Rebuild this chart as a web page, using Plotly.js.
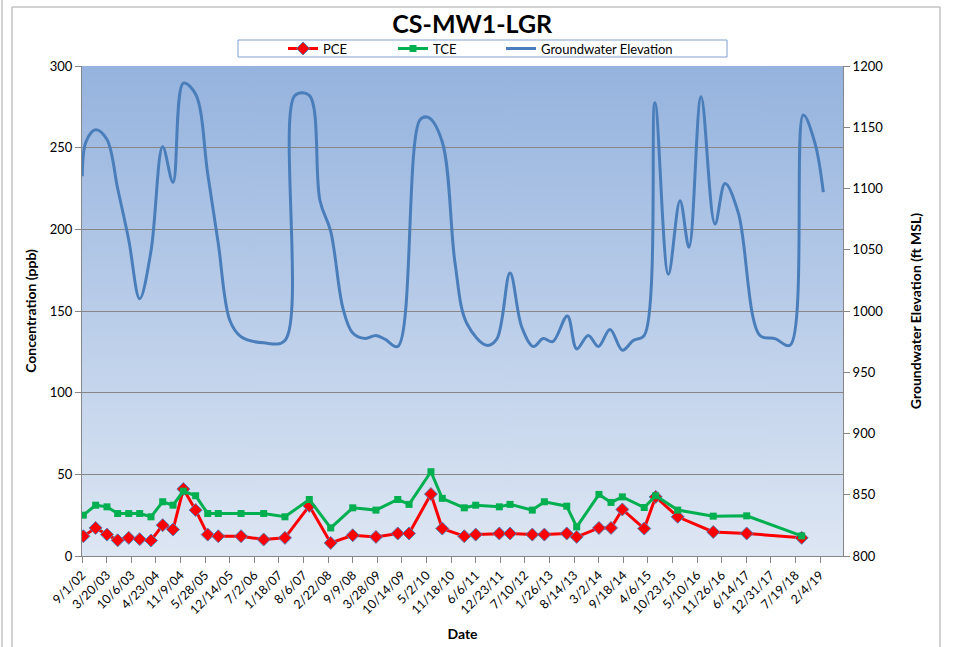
<!DOCTYPE html>
<html>
<head>
<meta charset="utf-8">
<script src="https://cdn.plot.ly/plotly-3.0.1.min.js"></script>
<style>
  html, body { margin: 0; padding: 0; background: #ffffff; }
  #chart { width: 956px; height: 647px; }
</style>
</head>
<body>
<div id="chart"></div>
<script>
// ---- Data ----
const sampleDates = [
  '2002-09-12','2002-12-21','2003-03-23','2003-06-18','2003-09-16','2003-12-14',
  '2004-03-15','2004-06-18','2004-09-10','2004-12-03','2005-03-13','2005-06-19',
  '2005-09-13','2006-03-17','2006-09-17','2007-03-09','2007-09-23','2008-03-15',
  '2008-09-10','2009-03-18','2009-09-11','2009-12-12','2010-06-08','2010-09-08',
  '2011-03-06','2011-06-07','2011-12-16','2012-03-12','2012-09-09','2012-12-16',
  '2013-06-16','2013-09-05','2014-03-05','2014-06-11','2014-09-11','2015-03-08',
  '2015-06-09','2015-12-05','2016-09-19','2017-06-18','2018-09-08'
];
const pce = [
  12.1, 17.2, 13.1, 9.6, 11.1, 10.3, 9.5, 18.9, 16.2, 41.0, 28.1, 13.1,
  12.1, 12.1, 10.1, 11.1, 30.7, 8.0, 12.7, 11.7, 13.8, 13.8, 37.9, 16.8,
  12.1, 13.1, 13.8, 13.8, 13.1, 13.1, 13.8, 11.7, 17.2, 17.2, 28.5, 16.8,
  36.2, 24.0, 14.7, 13.8, 11.1
];
const tce = [
  25.0, 31.1, 30.1, 26.0, 26.0, 26.0, 24.0, 33.2, 31.1, 39.7, 36.9, 26.0,
  26.0, 26.0, 26.0, 24.0, 34.6, 17.2, 29.5, 28.1, 34.6, 31.6, 51.6, 35.3,
  29.5, 31.1, 30.1, 31.6, 28.1, 33.2, 30.5, 17.8, 37.7, 32.8, 36.2, 29.7,
  36.9, 28.1, 24.4, 24.6, 12.3
];
const gwDates = [
  '2002-09-03','2002-10-03','2002-12-21','2003-03-23','2003-06-18','2003-09-16',
  '2003-12-14','2004-03-15','2004-06-18','2004-09-10','2004-12-03','2005-03-13',
  '2005-06-19','2005-09-13','2005-12-17','2006-03-17','2006-09-17','2007-03-09',
  '2007-05-30','2007-09-23','2007-12-19','2008-03-15','2008-06-23','2008-09-10',
  '2008-12-19','2009-03-18','2009-05-30','2009-09-11','2010-03-11','2010-05-17',
  '2010-09-08','2010-12-21','2011-03-26','2011-09-04','2011-11-25','2012-03-12',
  '2012-06-15','2012-09-17','2012-12-07','2013-02-22','2013-06-21','2013-09-05',
  '2013-12-08','2014-02-28','2014-06-03','2014-09-11','2014-12-09','2015-03-08',
  '2015-06-03','2015-09-20','2015-12-24','2016-03-06','2016-06-12','2016-10-03',
  '2016-12-24','2017-04-11','2017-10-04','2018-02-03','2018-06-05','2018-09-21',
  '2018-12-25','2019-03-03'
];
const gwElev = [
  1110, 1138, 1148, 1140, 1100, 1058,
  1010, 1049, 1134, 1105, 1186, 1177,
  1112, 1055, 992, 979, 974, 976,
  1176, 1176, 1090, 1065, 1002, 982,
  977.5, 980, 977, 971, 1156, 1158,
  1138, 1039, 990, 972, 977, 1031,
  987, 971, 977.5, 975, 996, 969,
  980, 971, 985, 968, 976, 980,
  1170, 1030, 1090, 1052, 1175, 1071,
  1104, 1080, 980, 977.5, 972, 1160,
  1137, 1097
];
const titleText = 'CS-MW1-LGR';
const seriesNames = ['PCE', 'TCE', 'Groundwater Elevation'];
const xTitle = 'Date';
const yTitle = 'Concentration (ppb)';
const y2Title = 'Groundwater Elevation (ft MSL)';

// ---- Styling ----
const FONT = 'Lato, "Open Sans", "Liberation Sans", sans-serif';
const GRID = '#868686';

const gradSvg = "<svg xmlns='http://www.w3.org/2000/svg' width='10' height='10' preserveAspectRatio='none'>" +
  "<defs><linearGradient id='g' x1='0' y1='0' x2='0' y2='1'>" +
  "<stop offset='0' stop-color='#95b3de'/><stop offset='1' stop-color='#dde6f3'/>" +
  "</linearGradient></defs><rect width='10' height='10' fill='url(#g)'/></svg>";
const gradUri = 'data:image/svg+xml;charset=utf-8,' + encodeURIComponent(gradSvg);

const traces = [
  {
    x: sampleDates, y: pce, name: seriesNames[0], type: 'scatter', mode: 'lines+markers',
    line: { color: '#ff0000', width: 3 },
    marker: { symbol: 'diamond', size: 10, color: '#ff0000', line: { color: '#4f81bd', width: 1 } },
    xaxis: 'x', yaxis: 'y', legend: 'legend'
  },
  {
    x: sampleDates, y: tce, name: seriesNames[1], type: 'scatter', mode: 'lines+markers',
    line: { color: '#00b050', width: 3 },
    marker: { symbol: 'square', size: 7, color: '#00b050' },
    xaxis: 'x', yaxis: 'y', legend: 'legend2'
  },
  {
    x: gwDates, y: gwElev, name: seriesNames[2], type: 'scatter', mode: 'lines',
    line: { color: '#4a7ebb', width: 3, shape: 'spline', smoothing: 1 },
    xaxis: 'x', yaxis: 'y2', legend: 'legend3'
  }
];

const px = (v) => (v - 82) / 761;       // pixel x -> paper
const py = (v) => (556 - v) / 490;      // pixel y -> paper

const legendBase = (left) => ({
  orientation: 'h', x: px(left), xanchor: 'left', y: py(48.5), yanchor: 'middle',
  bgcolor: 'rgba(0,0,0,0)', borderwidth: 0,
  font: { family: FONT, size: 13, color: '#000000' },
  itemwidth: 30
});

const layout = {
  width: 956, height: 647,
  margin: { l: 82, r: 113, t: 66, b: 91, pad: 0 },
  paper_bgcolor: '#ffffff',
  plot_bgcolor: 'rgba(0,0,0,0)',
  font: { family: FONT, size: 12, color: '#000000' },
  showlegend: true,
  title: {
    text: '<b>' + titleText + '</b>',
    font: { family: FONT, size: 25, color: '#000000' },
    x: 0.494, xref: 'container', xanchor: 'center',
    y: 1 - 24 / 647, yref: 'container', yanchor: 'middle'
  },
  legend: legendBase(283),
  legend2: legendBase(393),
  legend3: legendBase(501),
  xaxis: {
    type: 'date',
    range: ['2002-09-01', '2019-08-10'],
    tickmode: 'linear', tick0: '2002-09-01', dtick: 200 * 86400000,
    tickformat: '%-m/%-d/%y', tickangle: -45,
    ticks: 'outside', ticklen: 6, tickcolor: GRID,
    showline: true, linecolor: GRID, linewidth: 1,
    showgrid: false, zeroline: false,
    tickfont: { family: FONT, size: 12.5, color: '#000000' },
    title: { text: '<b>' + xTitle + '</b>', font: { family: FONT, size: 14, color: '#000000' }, standoff: 13 }
  },
  yaxis: {
    range: [0, 300], dtick: 50, tick0: 0,
    ticks: 'outside', ticklen: 6, tickcolor: GRID,
    showline: true, linecolor: GRID, linewidth: 1,
    showgrid: true, gridcolor: GRID, gridwidth: 1, zeroline: false,
    tickfont: { family: FONT, size: 13, color: '#000000' },
    title: { text: '<b>' + yTitle + '</b>', font: { family: FONT, size: 14, color: '#000000' }, standoff: 9 }
  },
  yaxis2: {
    overlaying: 'y', side: 'right',
    range: [800, 1200], dtick: 50, tick0: 800,
    ticks: 'outside', ticklen: 6, tickcolor: GRID,
    showline: true, linecolor: GRID, linewidth: 1,
    showgrid: false, zeroline: false,
    tickfont: { family: FONT, size: 13, color: '#000000' },
    title: { text: '<b>' + y2Title + '</b>', font: { family: FONT, size: 14, color: '#000000' }, standoff: 28 }
  },
  images: [{
    source: gradUri, xref: 'paper', yref: 'paper', x: 0, y: 1, sizex: 1, sizey: 1,
    xanchor: 'left', yanchor: 'top', sizing: 'stretch', layer: 'below'
  }],
  shapes: [
    // legend box
    { type: 'rect', xref: 'paper', yref: 'paper', x0: px(238), x1: px(727), y0: py(57), y1: py(40),
      line: { color: '#7f9fcf', width: 1 }, fillcolor: '#ffffff', layer: 'above' },
    // chart outer frame
    { type: 'line', xref: 'paper', yref: 'paper', x0: px(12), x1: px(940), y0: py(7), y1: py(7),
      line: { color: '#a6a6a6', width: 1 } },
    { type: 'line', xref: 'paper', yref: 'paper', x0: px(12), x1: px(12), y0: py(7), y1: py(660),
      line: { color: '#a6a6a6', width: 1 } },
    { type: 'line', xref: 'paper', yref: 'paper', x0: px(940), x1: px(940), y0: py(7), y1: py(660),
      line: { color: '#a6a6a6', width: 1 } },
    { type: 'line', xref: 'paper', yref: 'paper', x0: px(2), x1: px(2), y0: py(-5), y1: py(660),
      line: { color: '#a6a6a6', width: 1 } }
  ]
};

Plotly.newPlot('chart', traces, layout, { staticPlot: true, displayModeBar: false });
</script>
</body>
</html>
